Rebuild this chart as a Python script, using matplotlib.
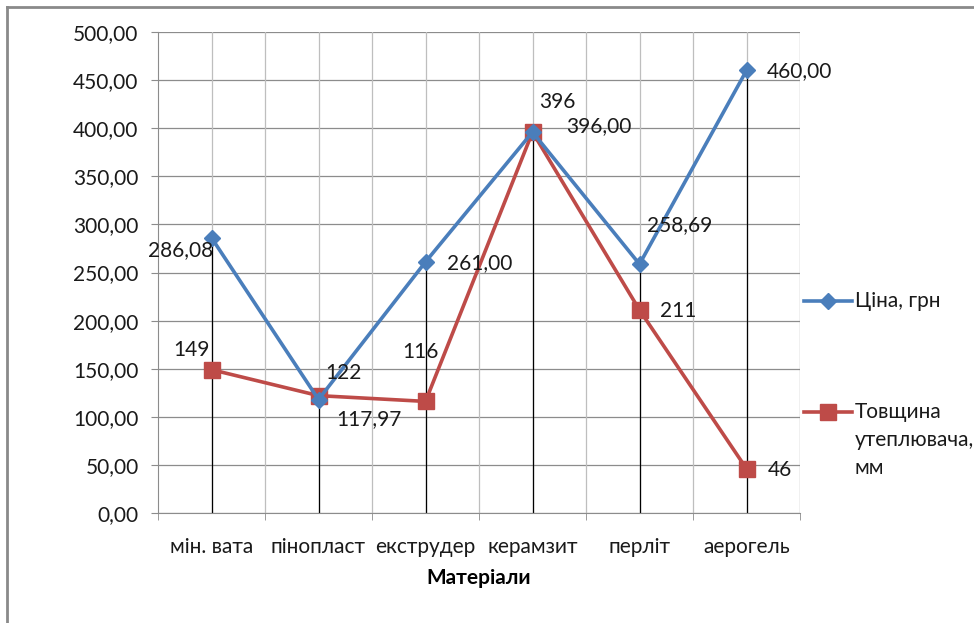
import matplotlib
matplotlib.use("Agg")
import matplotlib.pyplot as plt
from matplotlib.lines import Line2D
import numpy as np

categories = ["мін. вата", "пінопласт", "екструдер", "керамзит", "перліт", "аерогель"]
price = [286.08, 117.97, 261.00, 396.00, 258.69, 460.00]
thickness = [149, 122, 116, 396, 211, 46]
price_labels = ["286,08", "117,97", "261,00", "396,00", "258,69", "460,00"]
thick_labels = ["149", "122", "116", "396", "211", "46"]
yticks = [0, 50, 100, 150, 200, 250, 300, 350, 400, 450, 500]
ytick_labels = ["0,00", "50,00", "100,00", "150,00", "200,00", "250,00",
                "300,00", "350,00", "400,00", "450,00", "500,00"]
series_names = ["Ціна, грн", "Товщина\nутеплювача,\nмм"]

plt.rcParams['font.family'] = ['Lato', 'DejaVu Sans']
W, H = 974, 623
fig = plt.figure(figsize=(W/100, H/100), dpi=100)
ax = fig.add_axes([158/W, 1-513/H, (800-158)/W, (513-32)/H])

BLUE = "#4A7EBB"
RED = "#BE4B48"
HGRID = "#8C8C8C"
VGRID = "#BEBEBE"
TXT = "#1a1a1a"

x = np.arange(len(categories))
ax.set_xlim(-0.5, len(categories)-0.5)
ax.set_ylim(0, 500)

for yv in yticks:
    ax.axhline(yv, color=HGRID, lw=0.9, zorder=0)
for xv in np.arange(0, len(categories)-0.5, 0.5):
    ax.axvline(xv, color=VGRID, lw=0.9, zorder=0)
ax.axvline(len(categories)-0.5, color=HGRID, lw=0.9, zorder=0)

tops = [max(a, b) for a, b in zip(price, thickness)]
ax.vlines(x, 0, tops, color="black", lw=0.9, zorder=1)

ax.plot(x, thickness, color=RED, lw=2.6, marker="s", ms=12, mfc=RED, mec=RED, zorder=3)
ax.plot(x, price, color=BLUE, lw=2.6, marker="D", ms=8, mfc=BLUE, mec=BLUE, zorder=4)

fs = 15
p_off = [(-31, -12), (50, -20), (54, -1), (66, 6), (40, 39), (53, -1)]
t_off = [(-20, 20), (25, 23), (-5, 49), (25, 30), (39, -1), (33, -1)]
for i, (lab, off) in enumerate(zip(price_labels, p_off)):
    ax.annotate(lab, (x[i], price[i]), xytext=off, textcoords="offset pixels",
                ha="center", va="center", fontsize=fs, color=TXT, zorder=6)
for i, (lab, off) in enumerate(zip(thick_labels, t_off)):
    ax.annotate(lab, (x[i], thickness[i]), xytext=off, textcoords="offset pixels",
                ha="center", va="center", fontsize=fs, color=TXT, zorder=6)

ax.set_yticks(yticks)
ax.set_yticklabels(ytick_labels, fontsize=fs, color=TXT)
ax.set_xticks(x)
ax.set_xticklabels(categories, fontsize=fs, color=TXT)
ax.tick_params(axis="x", length=0, pad=17)
ax.tick_params(axis="y", length=5, color=HGRID, pad=9)
ax.set_xticks(np.arange(-0.5, len(categories), 1), minor=True)
ax.tick_params(axis="x", which="minor", length=5, color=HGRID)
for s in ["top", "right"]:
    ax.spines[s].set_visible(False)
ax.spines["left"].set_color(HGRID)
ax.spines["bottom"].set_color(HGRID)
ax.set_xlabel("Матеріали", fontsize=fs, fontweight="bold", labelpad=8)

# manual legend
def fx(px):
    return px / W
def fy(py):
    return 1 - py / H
leg_items = [(BLUE, "D", 8, 301), (RED, "s", 12, 412)]
for (col, mk, ms, ypx), name in zip(leg_items, series_names):
    fig.add_artist(Line2D([fx(804), fx(852)], [fy(ypx), fy(ypx)], color=col, lw=2.6,
                          transform=fig.transFigure))
    fig.add_artist(Line2D([fx(828)], [fy(ypx)], color=col, marker=mk, ms=ms, mfc=col, mec=col,
                          transform=fig.transFigure))
    fig.text(fx(855), fy(ypx), name.split("\n")[0], fontsize=fs, color=TXT, ha="left", va="center")
    for k, extra in enumerate(name.split("\n")[1:]):
        fig.text(fx(855), fy(ypx + 28 * (k + 1)), extra, fontsize=fs, color=TXT,
                 ha="left", va="center")

# chart border
fig.add_artist(Line2D([7/W, 7/W], [0, 1-7/H], color="#8A8A8A", lw=2, transform=fig.transFigure))
fig.add_artist(Line2D([7/W, 1], [1-7/H, 1-7/H], color="#8A8A8A", lw=2, transform=fig.transFigure))

fig.savefig("out.png", dpi=100)
